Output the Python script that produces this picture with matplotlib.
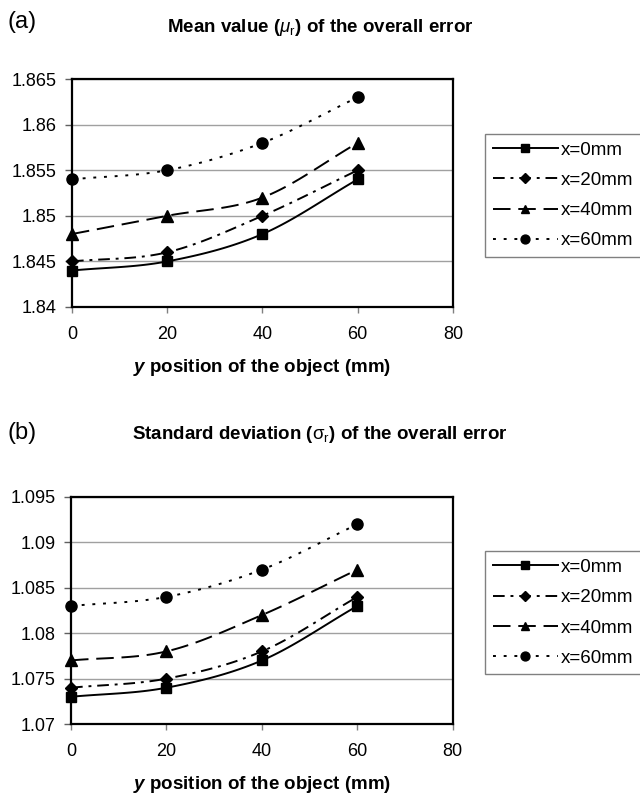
import numpy as np
import matplotlib
matplotlib.use("Agg")
import matplotlib.pyplot as plt
from matplotlib.lines import Line2D

plt.rcParams['font.family'] = ['Liberation Sans', 'DejaVu Sans']
plt.rcParams['mathtext.fontset'] = 'custom'
plt.rcParams['mathtext.rm'] = 'Liberation Sans'
plt.rcParams['mathtext.it'] = 'Liberation Sans:italic'
plt.rcParams['mathtext.bf'] = 'Liberation Sans:bold'
plt.rcParams['mathtext.bfit'] = 'Liberation Sans:italic:bold'

# data
y_pos = [0, 20, 40, 60]
series_names = ["x=0mm", "x=20mm", "x=40mm", "x=60mm"]

mean_x0 = [1.844, 1.845, 1.848, 1.854]
mean_x20 = [1.845, 1.846, 1.850, 1.855]
mean_x40 = [1.848, 1.850, 1.852, 1.858]
mean_x60 = [1.854, 1.855, 1.858, 1.863]

std_x0 = [1.073, 1.074, 1.077, 1.083]
std_x20 = [1.074, 1.075, 1.078, 1.084]
std_x40 = [1.077, 1.078, 1.082, 1.087]
std_x60 = [1.083, 1.084, 1.087, 1.092]

mean_ticks = [1.84, 1.845, 1.85, 1.855, 1.86, 1.865]
mean_ticklabels = ["1.84", "1.845", "1.85", "1.855", "1.86", "1.865"]
std_ticks = [1.07, 1.075, 1.08, 1.085, 1.09, 1.095]
std_ticklabels = ["1.07", "1.075", "1.08", "1.085", "1.09", "1.095"]
x_ticks = [0, 20, 40, 60, 80]

styles = [
    dict(ls='-', marker='s', ms=7.5),
    dict(ls=(0, (6, 3, 1.5, 3)), marker='D', ms=6),
    dict(ls=(0, (9, 4)), marker='^', ms=8),
    dict(ls=(0, (1.5, 4)), marker='o', ms=8),
]


def smooth(x, y, n=30):
    # catmull-rom curve through the points (like excel "smoothed line")
    x = np.asarray(x, float)
    y = np.asarray(y, float)
    px = np.concatenate([[2*x[0]-x[1]], x, [2*x[-1]-x[-2]]])
    py = np.concatenate([[2*y[0]-y[1]], y, [2*y[-1]-y[-2]]])
    xs, ys = [], []
    t = np.linspace(0, 1, n)
    for i in range(1, len(px)-2):
        for arr, out in ((px, xs), (py, ys)):
            p0, p1, p2, p3 = arr[i-1], arr[i], arr[i+1], arr[i+2]
            c = 0.5*((2*p1) + (-p0+p2)*t + (2*p0-5*p1+4*p2-p3)*t**2 + (-p0+3*p1-3*p2+p3)*t**3)
            out.extend(c if i == 1 else c[1:])
    return np.array(xs), np.array(ys)


def panel(ax, data, ticks, ticklabels):
    for vals, st in zip(data, styles):
        sx, sy = smooth(y_pos, vals)
        ax.plot(sx, sy, color='black', lw=1.4, ls=st['ls'])
        ax.plot(y_pos, vals, color='black', ls='none', marker=st['marker'], ms=st['ms'], clip_on=False)
    ax.set_xlim(0, 80)
    ax.set_ylim(ticks[0], ticks[-1])
    ax.set_xticks(x_ticks)
    ax.set_yticks(ticks)
    ax.set_yticklabels(ticklabels)
    ax.grid(axis='y', color='#a0a0a0', lw=1)
    ax.set_axisbelow(True)
    for s in ax.spines.values():
        s.set_color('black')
        s.set_linewidth(1.6)
    ax.tick_params(axis='y', direction='out', length=5, width=1, color='#606060', pad=6, labelsize=13)
    ax.tick_params(axis='x', direction='out', length=4, width=1, color='#808080', pad=10, labelsize=13)
    ax.set_xlabel(r"$\mathbfit{y}$ position of the object (mm)", fontsize=13.5, fontweight='bold', labelpad=10)
    handles = [Line2D([], [], color='black', lw=1.4, ls=st['ls'], marker=st['marker'], ms=st['ms']*0.8)
               for st in styles]
    return handles


fig = plt.figure(figsize=(6.4, 7.98), dpi=100)

legend_kw = dict(loc='upper left', fontsize=13.5, handlelength=3.5, handletextpad=0.15,
                 labelspacing=0.7, borderpad=0.4, borderaxespad=0,
                 fancybox=False, edgecolor='#808080', framealpha=1)

ax1 = fig.add_axes([0.1125, 0.6153, 0.5953, 0.2857])
h = panel(ax1, [mean_x0, mean_x20, mean_x40, mean_x60], mean_ticks, mean_ticklabels)
fig.legend(h, series_names, bbox_to_anchor=(0.758, 0.832), **legend_kw)

ax2 = fig.add_axes([0.111, 0.0927, 0.5965, 0.2845])
h = panel(ax2, [std_x0, std_x20, std_x40, std_x60], std_ticks, std_ticklabels)
fig.legend(h, series_names, bbox_to_anchor=(0.758, 0.309), **legend_kw)

fig.text(0.5, 0.965, r"Mean value ($\mu_{\rm r}$) of the overall error", ha='center', va='center',
         fontsize=13.5, fontweight='bold')
fig.text(0.5, 0.455, r"Standard deviation ($\mathrm{\sigma}_{\rm r}$) of the overall error", ha='center',
         va='center', fontsize=13.5, fontweight='bold')
fig.text(0.012, 0.972, "(a)", ha='left', va='center', fontsize=17)
fig.text(0.012, 0.457, "(b)", ha='left', va='center', fontsize=17)

fig.savefig("out.png", dpi=100)
